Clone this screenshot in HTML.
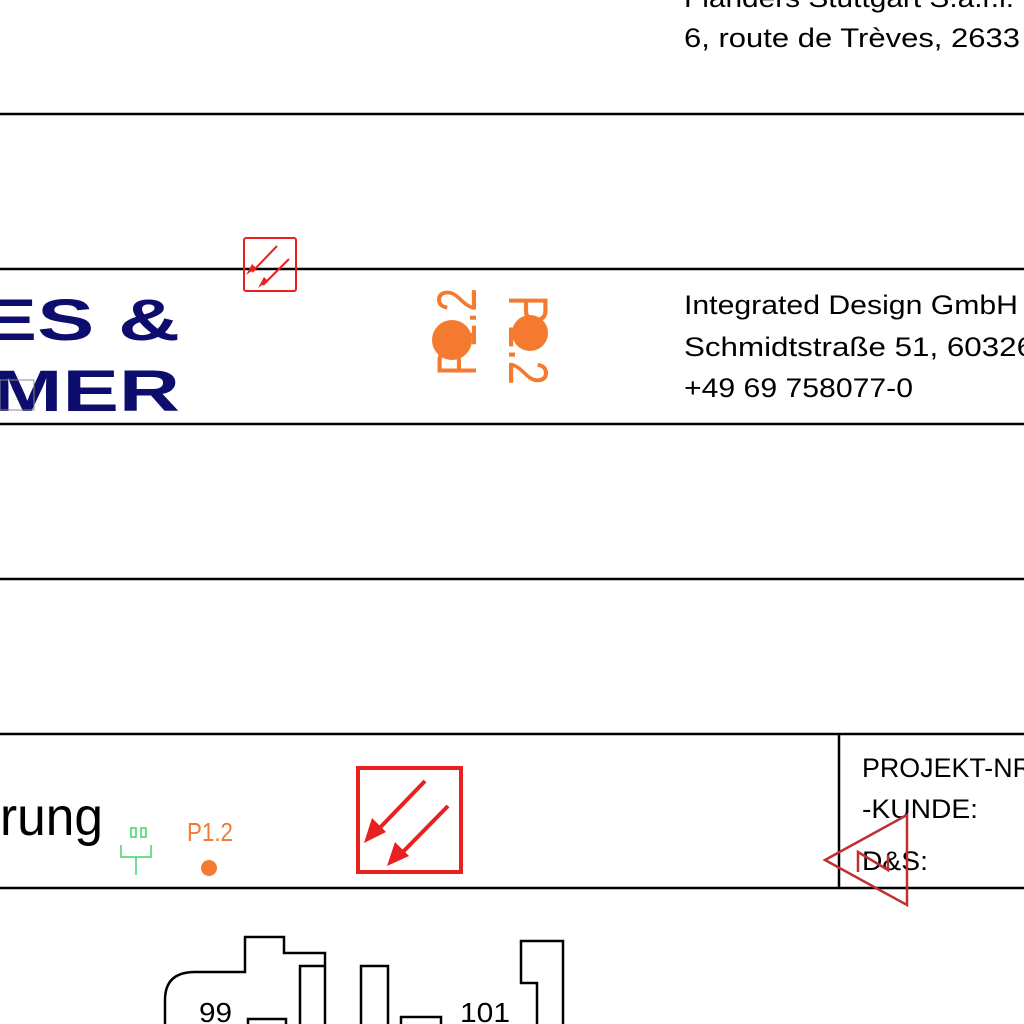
<!DOCTYPE html>
<html><head><meta charset="utf-8"><style>
html,body{margin:0;padding:0;background:#fff;}
svg{display:block}
text{font-family:"Liberation Sans",sans-serif}
</style></head><body>
<svg width="1024" height="1024" viewBox="0 0 1024 1024" xmlns="http://www.w3.org/2000/svg">
<g fill="#000" font-size="27">
<text x="684" y="7" textLength="330" lengthAdjust="spacingAndGlyphs">Flanders Stuttgart S.à.r.l.</text>
<text x="684" y="47" textLength="336" lengthAdjust="spacingAndGlyphs">6, route de Trèves,  2633</text>
<text x="684" y="314" textLength="334" lengthAdjust="spacingAndGlyphs">Integrated Design GmbH</text>
<text x="684" y="356" textLength="350" lengthAdjust="spacingAndGlyphs">Schmidtstraße 51,  60326</text>
<text x="684" y="397" textLength="229" lengthAdjust="spacingAndGlyphs">+49 69 758077-0</text>
<text x="862" y="777" textLength="170" lengthAdjust="spacingAndGlyphs">PROJEKT-NR</text>
<text x="862" y="818" textLength="116" lengthAdjust="spacingAndGlyphs">-KUNDE:</text>
<text x="862" y="870" textLength="66" lengthAdjust="spacingAndGlyphs">D&amp;S:</text>
<text x="0" y="835" font-size="54" textLength="103" lengthAdjust="spacingAndGlyphs">rung</text>
<text x="187" y="841" font-size="26" fill="#f47a30" textLength="46" lengthAdjust="spacingAndGlyphs">P1.2</text>
<text x="460" y="1022" font-size="28" textLength="50" lengthAdjust="spacingAndGlyphs">101</text>
<text x="199" y="1022" font-size="28" textLength="33" lengthAdjust="spacingAndGlyphs">99</text>
</g>
<g stroke="#000" stroke-width="2.5">
<line x1="0" y1="114" x2="1024" y2="114"/>
<line x1="0" y1="269" x2="1024" y2="269"/>
<line x1="0" y1="424" x2="1024" y2="424"/>
<line x1="0" y1="579" x2="1024" y2="579"/>
<line x1="0" y1="734" x2="1024" y2="734"/>
<line x1="0" y1="888" x2="1024" y2="888"/>
<line x1="839" y1="734" x2="839" y2="888"/>
</g>
<g fill="#0d0d6e" font-weight="bold" font-size="58">
<text x="-20" y="340" textLength="200" lengthAdjust="spacingAndGlyphs">ES &amp;</text>
<text x="-8" y="411" textLength="188" lengthAdjust="spacingAndGlyphs">MER</text>
</g>
<rect x="0" y="380" width="34" height="30" fill="none" stroke="#888" stroke-width="1"/>
<g fill="#f47a30" font-size="56">
<text transform="translate(476,376) rotate(-90)" textLength="88" lengthAdjust="spacingAndGlyphs">P1.2</text>
<text transform="translate(509,295) rotate(90)" textLength="90" lengthAdjust="spacingAndGlyphs">P1.2</text>
<circle cx="452" cy="340" r="20"/>
<circle cx="530" cy="333" r="18"/>
<circle cx="209" cy="868" r="8"/>
</g>
<g stroke="#e82020" fill="none">
<rect x="244" y="238" width="52" height="53" rx="2" stroke-width="2"/>
<line x1="277" y1="246" x2="252" y2="272" stroke-width="2"/>
<line x1="289" y1="259" x2="263" y2="285" stroke-width="2"/>
<rect x="358" y="768" width="103" height="104" stroke-width="4"/>
<line x1="425" y1="781" x2="372" y2="836" stroke-width="4"/>
<line x1="448" y1="806" x2="395" y2="860" stroke-width="4"/>
</g>
<g fill="#e82020">
<polygon points="246,275 256,268 252,264"/>
<polygon points="258,288 268,281 264,277"/>
<polygon points="364,843 386,832 372,818"/>
<polygon points="387,866 409,856 395,842"/>
</g>
<g stroke="#3ed46a" fill="none" stroke-width="1.5">
<rect x="131" y="828" width="5" height="9"/>
<rect x="141" y="828" width="5" height="9"/>
<polyline points="121,845 121,857 151,857 151,845"/>
<line x1="136" y1="857" x2="136" y2="875"/>
</g>
<g stroke="#c03030" fill="none" stroke-width="2.5">
<polygon points="825,860 907,815 907,905"/>
<polyline points="858,872 858,852 888,870 888,855"/>
</g>
<g stroke="#000" fill="none" stroke-width="2.5">
<path d="M165 1024 V1000 Q165 972 195 972 H245 V937 H284 V953 H325 V1024"/>
<path d="M300 1024 V966 H325"/>
<rect x="361" y="966" width="27" height="70"/>
<path d="M248 1024 V1019 H286 V1024"/>
<path d="M401 1024 V1017 H441 V1024"/>
<path d="M537 1024 V983 H521 V941 H563 V1024"/>
</g>
</svg>
</body></html>
